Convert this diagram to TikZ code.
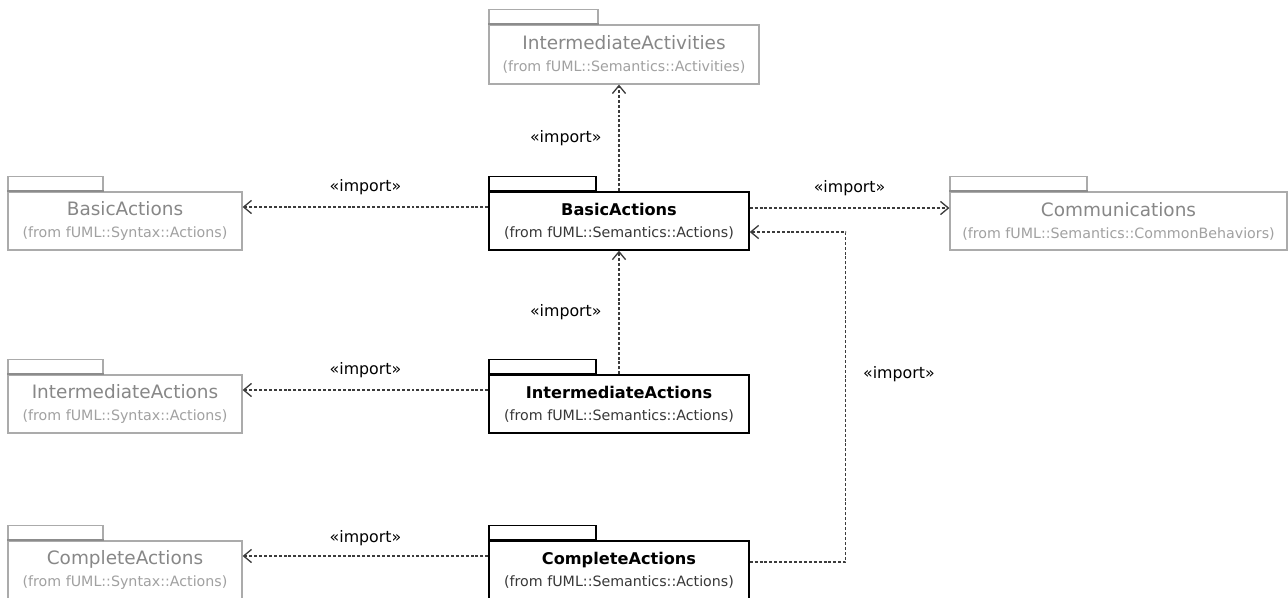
\documentclass[tikz,border=0pt]{standalone}
\usepackage{fontspec}
\setmainfont{DejaVu Sans}
\usetikzlibrary{positioning,arrows.meta,calc}
\definecolor{pkgline}{HTML}{ABABAB}
\definecolor{pkgtext}{HTML}{878787}
\definecolor{tabgrey}{HTML}{8C8C8C}
\definecolor{depgrey}{HTML}{3C3C3C}
\newcommand{\pkgttl}{\fontsize{10.5}{12}\selectfont}
\newcommand{\pkgbold}{\fontsize{9.2}{12}\selectfont\bfseries}
\newcommand{\pkgsrc}{\color{.!78!white}}

\begin{document}
\begin{tikzpicture}[
    pkg/.style={draw=pkgline, line width=0.7pt, fill=white, align=center, minimum height=1.16cm, text=pkgtext, inner sep=0pt, font=\fontsize{8.1}{12.5}\selectfont},
    spkg/.style={pkg, draw=black, text=black, line width=0.8pt},
    ptab/.style={draw=pkgline, line width=0.7pt, fill=white, minimum height=0.28cm, inner sep=0pt, anchor=south west},
    stab/.style={ptab, draw=black},
    imp/.style={-{Straight Barb[length=4.5pt,width=7.5pt]}, draw=depgrey, line width=0.75pt, dash pattern=on 1.7pt off 1.1pt},
    lbl/.style={font=\fontsize{9}{10}\selectfont, text=black, inner sep=1pt}]
  \useasboundingbox (0,0) rectangle (25.76,-11.94);
  % imported packages
  \node[pkg, minimum width=5.4cm, minimum height=1.18cm] (IAct) at (12.48,-1.09) {{\pkgttl IntermediateActivities}\\ \pkgsrc (from fUML::Semantics::Activities)};
  \node[pkg, minimum width=4.68cm] (BAsyn) at (2.50,-4.42) {{\pkgttl BasicActions}\\ \pkgsrc (from fUML::Syntax::Actions)};
  \node[pkg, minimum width=6.74cm] (Comm) at (22.37,-4.42) {{\pkgttl Communications}\\ \pkgsrc (from fUML::Semantics::CommonBehaviors)};
  \node[pkg, minimum width=4.68cm] (IAsyn) at (2.50,-8.08) {{\pkgttl IntermediateActions}\\ \pkgsrc (from fUML::Syntax::Actions)};
  \node[pkg, minimum width=4.68cm] (CAsyn) at (2.50,-11.40) {{\pkgttl CompleteActions}\\ \pkgsrc (from fUML::Syntax::Actions)};
  % semantics packages
  \node[spkg, minimum width=5.2cm] (BAsem) at (12.38,-4.42) {{\pkgbold BasicActions}\\ \pkgsrc (from fUML::Semantics::Actions)};
  \node[spkg, minimum width=5.2cm] (IAsem) at (12.38,-8.08) {{\pkgbold IntermediateActions}\\ \pkgsrc (from fUML::Semantics::Actions)};
  \node[spkg, minimum width=5.2cm] (CAsem) at (12.38,-11.40) {{\pkgbold CompleteActions}\\ \pkgsrc (from fUML::Semantics::Actions)};
  % tabs
  \node[ptab, minimum width=2.18cm] (IActTab) at (IAct.north west) {};
  \node[ptab, minimum width=2.74cm] (CommTab) at (Comm.north west) {};
  \node[ptab, minimum width=1.9cm] (BAsynTab) at (BAsyn.north west) {};
  \node[ptab, minimum width=1.9cm] (IAsynTab) at (IAsyn.north west) {};
  \node[ptab, minimum width=1.9cm] (CAsynTab) at (CAsyn.north west) {};
  \node[stab, minimum width=2.14cm] (BAsemTab) at (BAsem.north west) {};
  \node[stab, minimum width=2.14cm] (IAsemTab) at (IAsem.north west) {};
  \node[stab, minimum width=2.14cm] (CAsemTab) at (CAsem.north west) {};
  \foreach \t in {IActTab,CommTab,BAsynTab,IAsynTab,CAsynTab}
    \draw[tabgrey, line width=1.1pt] (\t.south west) -- (\t.south east);
  \foreach \t in {BAsemTab,IAsemTab,CAsemTab}
    \draw[black, line width=1.5pt] (\t.south west) -- (\t.south east);
  % imports
  \draw[imp] (BAsem.north) -- node[lbl, left=0.3cm] {«import»} (IAct.south -| BAsem.north);
  \draw[imp] ([yshift=0.28cm]BAsem.west) -- node[lbl, above=0.2cm] {«import»} ([yshift=0.28cm]BAsyn.east);
  \draw[imp] ([yshift=0.26cm]BAsem.east) -- node[lbl, above=0.2cm] {«import»} ([yshift=0.26cm]Comm.west);
  \draw[imp] (IAsem.north) -- node[lbl, left=0.3cm] {«import»} (BAsem.south);
  \draw[imp] ([yshift=0.28cm]IAsem.west) -- node[lbl, above=0.2cm] {«import»} ([yshift=0.28cm]IAsyn.east);
  \draw[imp] ([yshift=0.28cm]CAsem.west) -- node[lbl, above=0.15cm] {«import»} ([yshift=0.28cm]CAsyn.east);
  \draw[imp] ([yshift=0.16cm]CAsem.east) -| node[lbl, pos=0.785, right=0.3cm] {«import»} ([xshift=1.92cm,yshift=-0.22cm]BAsem.east) -- ([yshift=-0.22cm]BAsem.east);
\end{tikzpicture}
\end{document}
